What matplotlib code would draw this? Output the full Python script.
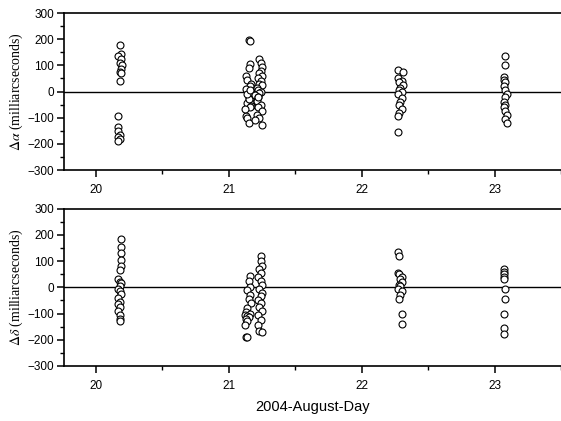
import matplotlib
matplotlib.use("Agg")
import matplotlib.pyplot as plt
from matplotlib.ticker import MultipleLocator

# ---- data (day of August 2004, offset in mas) ----
ra_d20_x = [20.18, 20.19, 20.17, 20.19, 20.18, 20.20, 20.19, 20.18, 20.19, 20.18,
            20.17, 20.17, 20.17, 20.18, 20.17, 20.18, 20.17]
ra_d20_y = [178, 145, 135, 125, 110, 100, 85, 75, 70, 40,
            -92, -135, -150, -165, -175, -183, -188]

ra_d21_x = [21.15, 21.16, 21.13, 21.16, 21.15, 21.14, 21.17, 21.16, 21.13, 21.15,
            21.17, 21.16, 21.14, 21.15, 21.17, 21.13, 21.16, 21.14, 21.12, 21.15,
            21.17, 21.14, 21.16,
            21.23, 21.24, 21.25, 21.24, 21.23, 21.25, 21.22, 21.24, 21.23, 21.25,
            21.21, 21.22, 21.24, 21.23, 21.20, 21.22, 21.21, 21.24, 21.22, 21.25,
            21.21, 21.23, 21.20, 21.22, 21.25]
ra_d21_y = [198, 195, 58, 105, 90, 45, 30, 20, 10, -25, -35, -40, -45, -30,
            -55, -95, -60, -100, -65, -120, 0, -10, 5,
            125, 110, 95, 80, 70, 60, 50, 40, 30, 25, 15, 5, 0, -5, -15, -20,
            -35, -50, -60, -75, -90, -100, -110, -20, -128]

ra_d22_x = [22.27, 22.31, 22.27, 22.30, 22.28, 22.31, 22.29, 22.28, 22.30, 22.27,
            22.30, 22.29, 22.28, 22.30, 22.28, 22.27, 22.27]
ra_d22_y = [82, 75, 50, 40, 35, 25, 15, 5, 0, -10, -25, -40, -50, -65, -80, -95, -155]

ra_d23_x = [23.08, 23.08, 23.07, 23.07, 23.08, 23.07, 23.08, 23.09, 23.08, 23.07,
            23.08, 23.07, 23.08, 23.09, 23.08, 23.09]
ra_d23_y = [135, 100, 55, 45, 35, 20, 5, -10, -20, -40, -50, -60, -75, -90, -105, -120]

de_d20_x = [20.19, 20.19, 20.19, 20.19, 20.19, 20.18, 20.17, 20.18, 20.19, 20.18,
            20.17, 20.18, 20.19, 20.17, 20.18, 20.17, 20.18, 20.17, 20.18, 20.18, 20.18]
de_d20_y = [185, 155, 130, 105, 80, 65, 30, 20, 15, 5, -5, -15, -25, -40, -55,
            -65, -75, -90, -105, -120, -128]

de_d21_x = [21.16, 21.15, 21.16, 21.14, 21.16, 21.15, 21.17, 21.14, 21.13, 21.16,
            21.12, 21.14, 21.15, 21.13, 21.14, 21.12, 21.13, 21.14,
            21.24, 21.24, 21.25, 21.23, 21.24, 21.22, 21.24, 21.25, 21.23, 21.25,
            21.24, 21.22, 21.24, 21.23, 21.25, 21.22, 21.24, 21.22, 21.23, 21.25]
de_d21_y = [45, 25, 0, -10, -30, -45, -60, -80, -95, -100, -105, -110, -115,
            -120, -130, -145, -190, -190,
            120, 100, 80, 70, 55, 40, 25, 10, -5, -20, -35, -50, -60, -75, -90,
            -105, -125, -145, -165, -170]

de_d22_x = [22.27, 22.28, 22.27, 22.28, 22.30, 22.29, 22.30, 22.28, 22.29, 22.27,
            22.30, 22.29, 22.28, 22.30, 22.30]
de_d22_y = [135, 120, 55, 50, 40, 30, 20, 10, 5, -5, -15, -30, -45, -100, -140]

de_d23_x = [23.07, 23.07, 23.07, 23.07, 23.07, 23.08, 23.08, 23.07, 23.07, 23.07]
de_d23_y = [70, 60, 50, 40, 30, -5, -45, -100, -155, -180]

ra_x = ra_d20_x + ra_d21_x + ra_d22_x + ra_d23_x
ra_y = ra_d20_y + ra_d21_y + ra_d22_y + ra_d23_y
de_x = de_d20_x + de_d21_x + de_d22_x + de_d23_x
de_y = de_d20_y + de_d21_y + de_d22_y + de_d23_y

day_ticks = [20, 21, 22, 23]

plt.rcParams['font.family'] = ['Liberation Sans', 'DejaVu Sans']
plt.rcParams['mathtext.fontset'] = 'stix'

fig = plt.figure(figsize=(5.61, 4.21), dpi=100)
ax1 = fig.add_axes([0.114, 0.596, 0.886, 0.373])
ax2 = fig.add_axes([0.114, 0.131, 0.886, 0.373])


def style(ax, xs, ys, ylabel):
    ax.plot(xs, ys, 'o', ms=5, mfc='white', mec='black', mew=0.8, zorder=3)
    ax.axhline(0, color='black', lw=1.0, zorder=2)
    ax.set_xlim(19.76, 23.5)
    ax.set_ylim(-300, 300)
    ax.set_xticks(day_ticks)
    ax.xaxis.set_minor_locator(MultipleLocator(0.5))
    ax.yaxis.set_major_locator(MultipleLocator(100))
    ax.yaxis.set_minor_locator(MultipleLocator(50))
    ax.spines['right'].set_visible(False)
    for s in ['left', 'top', 'bottom']:
        ax.spines[s].set_linewidth(1.2)
    ax.tick_params(which='major', direction='out', length=5, width=1.1,
                   labelsize=8.5, pad=2)
    ax.tick_params(which='minor', direction='out', length=3, width=1.0)
    ax.tick_params(axis='x', which='both', top=False)
    ax.tick_params(axis='x', which='major', pad=5)
    ax.set_ylabel(ylabel, fontsize=10, labelpad=2,
                  family=['Liberation Serif', 'DejaVu Serif'])


style(ax1, ra_x, ra_y, r'$\Delta\alpha$ (milliarcseconds)')
style(ax2, de_x, de_y, r'$\Delta\delta$ (milliarcseconds)')
ax2.set_xlabel('2004-August-Day', fontsize=10.5, labelpad=6)

fig.savefig('out.png', dpi=100)
